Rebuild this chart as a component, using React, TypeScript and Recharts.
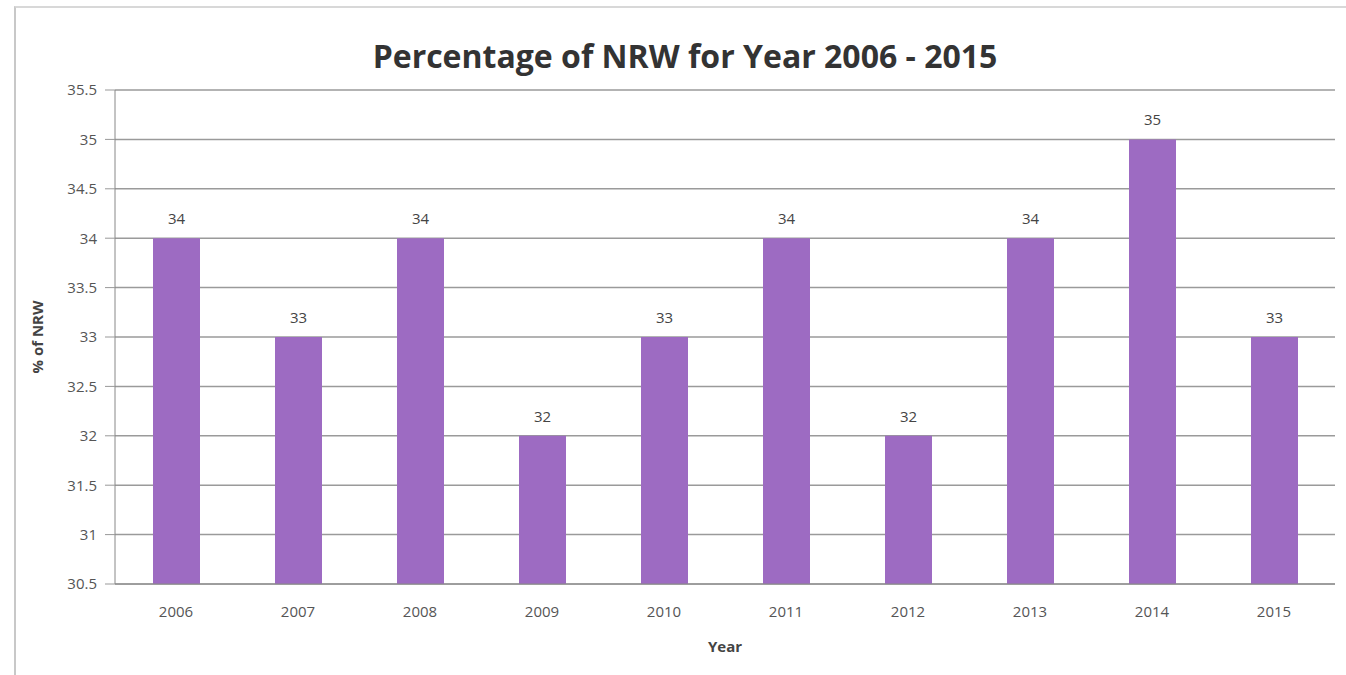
import React from 'react';
import { BarChart, Bar, XAxis, YAxis, CartesianGrid, LabelList } from 'recharts';

const years = ['2006', '2007', '2008', '2009', '2010', '2011', '2012', '2013', '2014', '2015'];
const nrwValues = [34, 33, 34, 32, 33, 34, 32, 34, 35, 33];
const yTicks = [30.5, 31, 31.5, 32, 32.5, 33, 33.5, 34, 34.5, 35, 35.5];

const data = years.map((year, i) => ({ year, nrw: nrwValues[i] }));

const FONT = '"Open Sans", "Noto Sans", sans-serif';

const App: React.FC = () => {
  return (
    <div style={{ position: 'absolute', left: 0, top: 0, width: 1346, height: 675, background: '#fff', fontFamily: FONT }}>
      {/* outer frame */}
      <div style={{ position: 'absolute', left: 14, top: 6, width: 1340, height: 680, borderLeft: '2px solid #c8c8c8', borderTop: '2px solid #d8d8d8' }} />
      <div style={{ position: 'absolute', left: 0, width: 1370, top: 34, textAlign: 'center', fontSize: 32, fontWeight: 700, color: '#333', letterSpacing: 0 }}>
        Percentage of NRW for Year 2006 - 2015
      </div>
      <BarChart width={1346} height={675} data={data} margin={{ top: 90, right: 11, bottom: 21, left: 0 }} barSize={47}>
        <CartesianGrid vertical={false} stroke="#9a9a9a" strokeWidth={1.5} />
        <XAxis
          dataKey="year"
          height={70}
          axisLine={{ stroke: '#888' }}
          tickLine={false}
          tickMargin={16}
          tick={{ fontSize: 15, fill: '#555', fontFamily: FONT }}
          label={{ value: 'Year', position: 'insideBottom', offset: 2, fontSize: 15, fontWeight: 700, fill: '#444', fontFamily: FONT }}
        />
        <YAxis
          width={115}
          domain={[30.5, 35.5]}
          ticks={yTicks}
          allowDataOverflow
          axisLine={{ stroke: '#888' }}
          tickLine={{ stroke: '#999' }}
          tickSize={10}
          tickMargin={8}
          tick={{ fontSize: 15, fill: '#555', fontFamily: FONT }}
          label={{ value: '% of NRW', angle: -90, position: 'insideLeft', offset: 38, fontSize: 15, fontWeight: 700, fill: '#444', fontFamily: FONT, style: { textAnchor: 'middle' } }}
        />
        <Bar dataKey="nrw" fill="#9d6bc2" isAnimationActive={false}>
          <LabelList dataKey="nrw" position="top" offset={14} style={{ fontSize: 15, fill: '#444', fontFamily: FONT }} />
        </Bar>
      </BarChart>
    </div>
  );
};

export default App;
